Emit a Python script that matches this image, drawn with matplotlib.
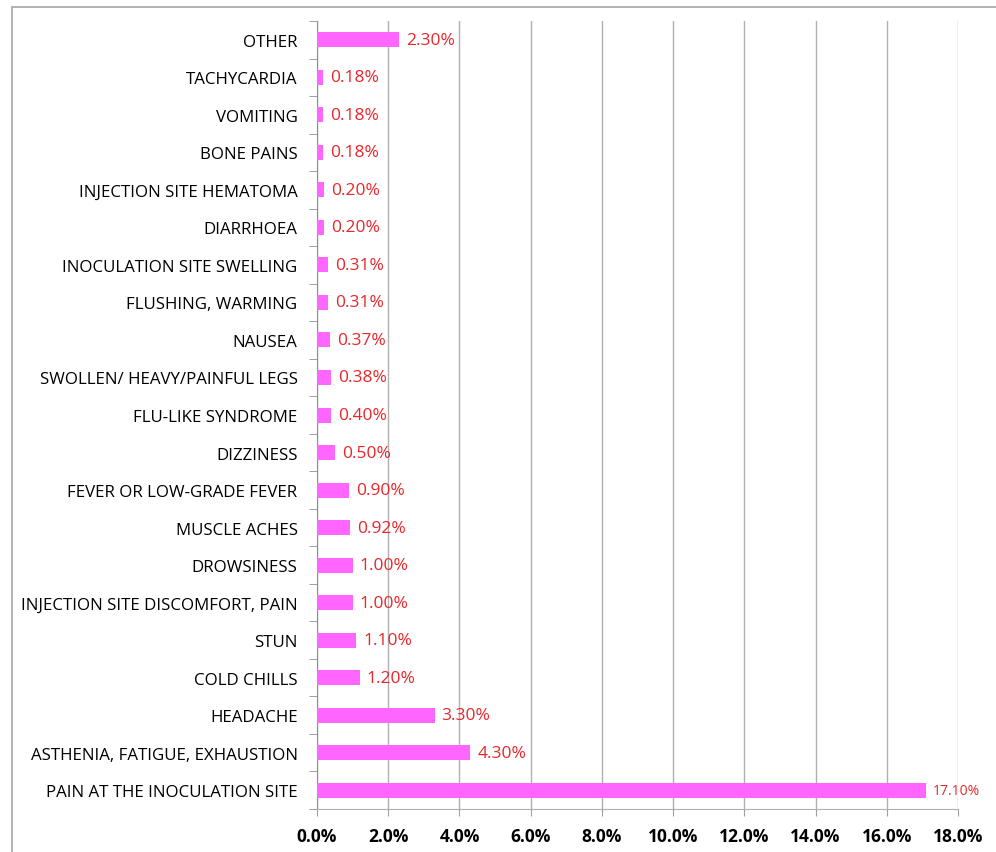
import matplotlib
matplotlib.use("Agg")
import matplotlib.pyplot as plt
from matplotlib.patches import Rectangle
from matplotlib.ticker import FuncFormatter

plt.rcParams['font.family'] = ['Open Sans', 'DejaVu Sans']

# categories bottom to top
symptoms = [
    "PAIN AT THE INOCULATION SITE",
    "ASTHENIA, FATIGUE, EXHAUSTION",
    "HEADACHE",
    "COLD CHILLS",
    "STUN",
    "INJECTION SITE DISCOMFORT, PAIN",
    "DROWSINESS",
    "MUSCLE ACHES",
    "FEVER OR LOW-GRADE FEVER",
    "DIZZINESS",
    "FLU-LIKE SYNDROME",
    "SWOLLEN/ HEAVY/PAINFUL LEGS",
    "NAUSEA",
    "FLUSHING, WARMING",
    "INOCULATION SITE SWELLING",
    "DIARRHOEA",
    "INJECTION SITE HEMATOMA",
    "BONE PAINS",
    "VOMITING",
    "TACHYCARDIA",
    "OTHER",
]
percent = [17.10, 4.30, 3.30, 1.20, 1.10, 1.00, 1.00, 0.92, 0.90, 0.50, 0.40,
           0.38, 0.37, 0.31, 0.31, 0.20, 0.20, 0.18, 0.18, 0.18, 2.30]
x_ticks = [0, 2, 4, 6, 8, 10, 12, 14, 16, 18]

fig = plt.figure(figsize=(9.96, 8.53), dpi=100)
ax = fig.add_axes([0.3183, 0.0504, 0.9618 - 0.3183, 0.9742 - 0.0504])

# frame around the chart
fig.patches.append(Rectangle((12 / 996, -0.1), 1.2, 1 - 8 / 853 + 0.1,
                             transform=fig.transFigure, fill=False,
                             edgecolor='#a6a6a6', linewidth=1.2))

pos = range(len(symptoms))
ax.barh(pos, percent, height=0.4, color='#ff66ff', zorder=3)

ax.set_xlim(0, 18)
ax.set_ylim(-0.5, len(symptoms) - 0.5)
ax.set_xticks(x_ticks)
ax.xaxis.set_major_formatter(FuncFormatter(lambda v, p: f"{v:.1f}%"))
for lab in ax.get_xticklabels():
    lab.set_fontweight('bold')
    lab.set_fontsize(12.5)
ax.tick_params(axis='x', length=5, color='#a0a0a0', pad=8)

ax.set_yticks(list(pos))
ax.set_yticklabels(symptoms, fontsize=12.2)
ax.tick_params(axis='y', length=0, pad=14)
ax.set_yticks([p - 0.5 for p in range(len(symptoms) + 1)], minor=True)
ax.tick_params(axis='y', which='minor', length=6, color='#909090')

ax.grid(axis='x', color='#b0b0b0', linewidth=1, zorder=0)
for s in ['top', 'right']:
    ax.spines[s].set_visible(False)
ax.spines['left'].set_color('#909090')
ax.spines['bottom'].set_color('#b0b0b0')

for i, v in enumerate(percent):
    if v > 10:
        ax.text(v + 0.2, i, f"{v:.2f}%", va='center', ha='left',
                color='#e8262b', fontsize=10, zorder=4)
    else:
        ax.text(v + 0.2, i, f"{v:.2f}%", va='center', ha='left',
                color='#e8262b', fontsize=12.5, zorder=4)

fig.savefig("out.png", dpi=100)
